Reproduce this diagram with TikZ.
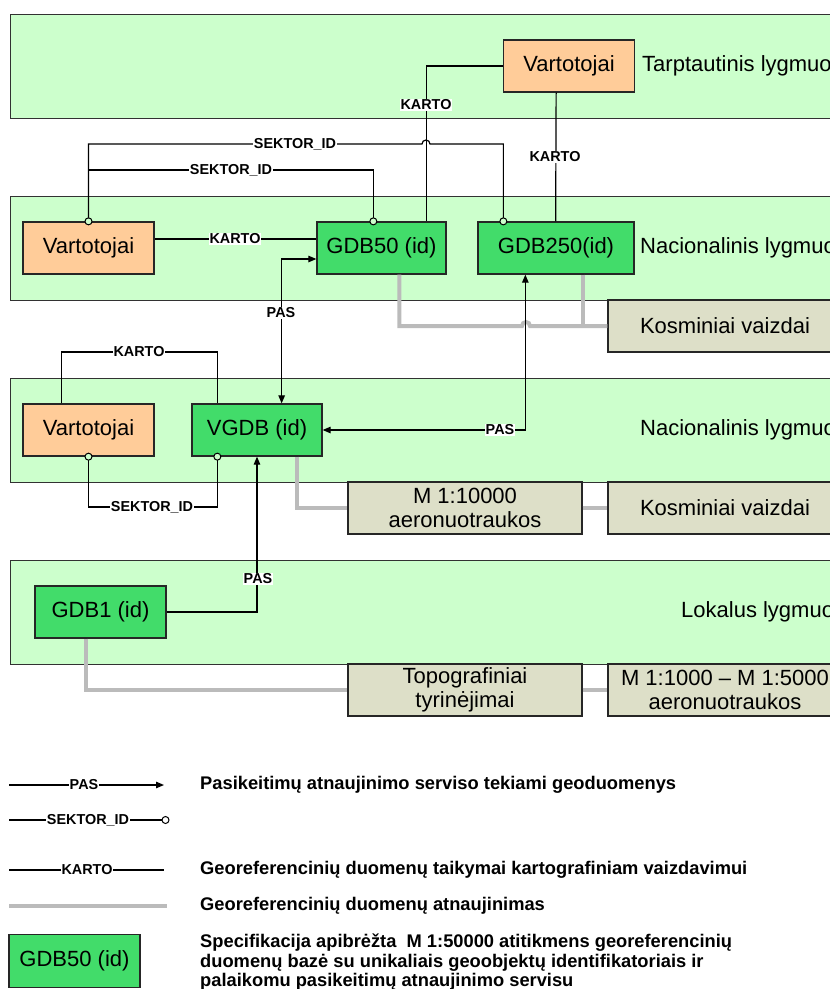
\documentclass[tikz,border=0pt]{standalone}
\usepackage{fontspec}
\setmainfont{Liberation Sans}
\usetikzlibrary{arrows.meta}

\definecolor{bandfill}{RGB}{204,255,204}
\definecolor{dbgreen}{RGB}{66,220,106}
\definecolor{userfill}{RGB}{255,204,153}
\definecolor{srcfill}{RGB}{221,223,200}
\definecolor{updgray}{RGB}{187,187,187}
\definecolor{bandline}{RGB}{50,50,50}

\begin{document}
\begin{tikzpicture}[x=1pt,y=-1pt,
  band/.style={draw=bandline, line width=1.3pt, fill=bandfill, minimum width=850pt,
    minimum height=104pt, anchor=north west, inner sep=0pt},
  box/.style={draw=black!85, line width=1.3pt, minimum height=52pt, inner sep=0pt,
    font=\fontsize{22}{24}\selectfont, align=center},
  user/.style={box, fill=userfill, minimum width=131pt},
  db/.style={box, fill=dbgreen},
  src/.style={box, fill=srcfill, minimum width=234pt},
  level/.style={anchor=west, inner sep=0pt, font=\fontsize{22}{26}\selectfont},
  conn/.style={draw=black, line width=1.2pt},
  upd/.style={draw=updgray, line width=4pt},
  tag/.style={fill=white, inner sep=1pt, font=\bfseries\fontsize{14.4}{16}\selectfont},
  tip/.tip={Triangle[length=8pt,width=6.5pt]},
  pas/.style={conn, tip-tip},
  pasone/.style={conn, -tip},
  pin/.style={draw=black, line width=1pt, fill=bandfill, circle, inner sep=0pt, minimum size=7pt},
  legtext/.style={anchor=west, inner sep=0pt, font=\bfseries\fontsize{18.3}{19.5}\selectfont, align=left},
]
\path[use as bounding box] (0,0) rectangle (830,989);
\clip (0,0) rectangle (830,989);

% level bands
\node[band] (band1) at (10,14) {};
\node[band] (band2) at (10,196) {};
\node[band] (band3) at (10,378) {};
\node[band] (band4) at (10,560) {};

\node[level] (lev1) at (642,66) {Tarptautinis lygmuo};
\node[level] (lev2) at (640,248) {Nacionalinis lygmuo};
\node[level] (lev3) at (640,430) {Nacionalinis lygmuo};
\node[level] (lev4) at (681,612) {Lokalus lygmuo};

% boxes
\node[user] (vt) at (569,66) {Vartotojai};
\node[user] (vn) at (88.5,248) {Vartotojai};
\node[db, minimum width=129pt] (g50) at (381.5,248) {GDB50 (id)};
\node[db, minimum width=156pt] (g250) at (556,248) {GDB250(id)};
\node[src] (kos1) at (725,326) {Kosminiai vaizdai};

\node[user] (vv) at (88.5,430) {Vartotojai};
\node[db, minimum width=130pt] (vgdb) at (257,430) {VGDB (id)};
\node[src] (m10) at (465,508) {M 1:10000\\aeronuotraukos};
\node[src] (kos2) at (725,508) {Kosminiai vaizdai};

\node[db, minimum width=131pt] (gdb1) at (100.5,612) {GDB1 (id)};
\node[src] (topo) at (465,690) {Topografiniai\\tyrinėjimai};
\node[src] (m1000) at (725,690) {M 1:1000 -- M 1:5000\\aeronuotraukos};

% attachment points on the boxes
\coordinate (g50k) at ([xshift=-20pt]g50.north east);
\coordinate (g50s) at ([xshift=57pt]g50.north west);
\coordinate (g50u) at ([xshift=83pt]g50.south west);
\coordinate (g250s) at ([xshift=26pt]g250.north west);
\coordinate (g250k) at ([xshift=-79pt]g250.north east);
\coordinate (g250p) at ([xshift=48pt]g250.south west);
\coordinate (g250u) at ([xshift=-52pt]g250.south east);
\coordinate (vtk) at ([xshift=-79pt]vt.south east);
\coordinate (vgdbp) at ([xshift=-41pt]vgdb.north east);
\coordinate (vgdbk) at ([xshift=26pt]vgdb.north west);
\coordinate (vgdbs) at ([xshift=26pt]vgdb.south west);
\coordinate (vgdbu) at ([xshift=-26pt]vgdb.south east);
\coordinate (vvk) at ([xshift=39pt]vv.north west);
\coordinate (gdb1u) at ([xshift=52pt]gdb1.south west);

% update flows (grey)
\draw[upd] (g50u) |- (522,326) arc[start angle=180,end angle=360,radius=4] -- (kos1.west);
\draw[upd] (g250u) -- (g250u |- kos1.west);
\draw[upd] (vgdbu) |- (m10.west);
\draw[upd] (m10.east) -- (kos2.west);
\draw[upd] (gdb1u) |- (topo.west);
\draw[upd] (topo.east) -- (m1000.west);

% cartographic links
\draw[conn] (vt.west) -| (g50k);
\draw[conn] (vtk) -- (g250k);
\draw[conn] ([yshift=9pt]vn.east) -- ([yshift=9pt]g50.west);
\draw[conn] (vvk) |- (139,352) -| (vgdbk);

% sector links
\draw[conn] (vn.north) |- (422,144) arc[start angle=180,end angle=360,radius=4] -| (g250s);
\draw[conn] (vn.north) |- (231,170) -| (g50s);
\draw[conn] (vv.south) |- (152,507) -| (vgdbs);

% change service flows
\draw[pas] ([yshift=-11pt]g50.west) -| (vgdbp);
\draw[pas] (vgdb.east) -| (g250p);
\draw[pasone] (gdb1.east) -| (vgdb.south);

% sector pins
\node[pin] (pin1) at (vn.north) {};
\node[pin] (pin2) at (g50s) {};
\node[pin] (pin3) at (g250s) {};
\node[pin] (pin4) at (vv.south) {};
\node[pin] (pin5) at (vgdbs) {};

% link labels
\node[tag] (t1) at (426,105) {KARTO};
\node[tag] (t2) at (295,144) {SEKTOR\_ID};
\node[tag] (t3) at (231,170) {SEKTOR\_ID};
\node[tag] (t4) at (555,157) {KARTO};
\node[tag] (t5) at (235,239) {KARTO};
\node[tag] (t6) at (281,313) {PAS};
\node[tag] (t7) at (139,352) {KARTO};
\node[tag] (t8) at (500,430) {PAS};
\node[tag] (t9) at (152,507) {SEKTOR\_ID};
\node[tag] (t10) at (258,579) {PAS};

% legend
\coordinate (la1) at (9,785);  \coordinate (la2) at (164,785);
\coordinate (lb1) at (9,820);  \coordinate (lb2) at (162,820);
\coordinate (lc1) at (9,870);  \coordinate (lc2) at (164,870);
\coordinate (ld1) at (9,906);  \coordinate (ld2) at (167,906);
\draw[pasone] (la1) -- (la2);
\node[tag] (lta) at (84,785) {PAS};
\draw[conn] (lb1) -- (lb2);
\node[tag] (ltb) at (88,820) {SEKTOR\_ID};
\node[pin, fill=white] (lpin) at (165.5,820) {};
\draw[conn] (lc1) -- (lc2);
\node[tag] (ltc) at (87,870) {KARTO};
\draw[upd] (ld1) -- (ld2);
\node[db, minimum width=131pt, minimum height=53pt] (lbox) at (74.5,961) {GDB50 (id)};

\node[legtext] (lx1) at (200,785) {Pasikeitimų atnaujinimo serviso tekiami geoduomenys};
\node[legtext] (lx3) at (200,870) {Georeferencinių duomenų taikymai kartografiniam vaizdavimui};
\node[legtext] (lx4) at (200,906) {Georeferencinių duomenų atnaujinimas};
\node[legtext] (lx5) at (200,962.5) {Specifikacija apibrėžta\ \ M 1:50000 atitikmens georeferencinių\\
  duomenų bazė su unikaliais geoobjektų identifikatoriais ir\\
  palaikomu pasikeitimų atnaujinimo servisu};
\end{tikzpicture}
\end{document}
